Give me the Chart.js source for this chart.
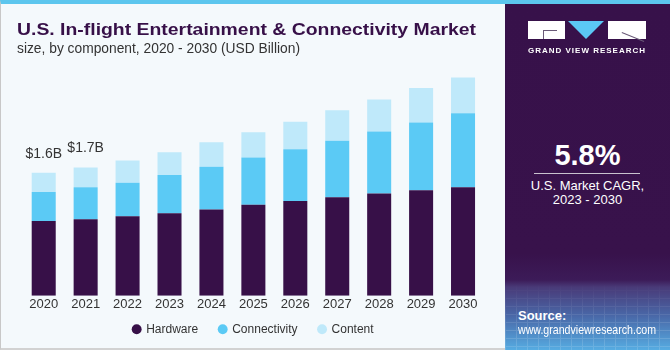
<!DOCTYPE html>
<html>
<head>
<meta charset="utf-8">
<script src="https://cdn.jsdelivr.net/npm/chart.js@4/dist/chart.umd.min.js"></script>
<style>
  html, body { margin: 0; padding: 0; }
  body { width: 670px; height: 350px; overflow: hidden; position: relative; background: #fff;
         font-family: "Liberation Sans", Arial, sans-serif; }
  .abs { position: absolute; white-space: nowrap; }
  #left { left: 0; top: 0; width: 505px; height: 350px; box-sizing: border-box;
          background: #f4f9fc; border-top: 4px solid #5cc6ee; border-left: 1px solid #c8c8c8;
          border-bottom: 2px solid #d2d2d2; }
  #right { left: 505px; top: 0; width: 165px; height: 350px; box-sizing: border-box;
           border-top: 4px solid #5cc6ee; overflow: hidden;
           background: linear-gradient(180deg, #37114a 0px, #38124b 250px, #3c1b58 276px, #493a78 283px, #4968a8 312px, #56ace2 346px); }
  #grid { left: 0; top: 279px; width: 165px; height: 80px; opacity: 0.13;
          background-image: repeating-linear-gradient(90deg, #fff 0 1px, transparent 1px 11px),
                            repeating-linear-gradient(0deg, #fff 0 1px, transparent 1px 8px);
          -webkit-mask-image: linear-gradient(180deg, transparent 0%, #000 60%);
          mask-image: linear-gradient(180deg, transparent 0%, #000 60%); }
  #title { left: 17px; top: 21px; font-size: 17px; line-height: 17px; font-weight: bold; color: #371048;
           transform-origin: 0 0; }
  #subtitle { left: 17px; top: 41px; font-size: 14px; line-height: 14px; color: #333; transform-origin: 0 0; }
  #chartWrap { left: 0; top: 0; width: 505px; height: 350px; }
  .w { color: #fff; }
</style>
</head>
<body>
<div id="left" class="abs"></div>
<div id="right" class="abs">
  <div id="grid" class="abs"></div>
</div>

<div id="title" class="abs fit" data-w="459">U.S. In-flight Entertainment &amp; Connectivity Market</div>
<div id="subtitle" class="abs fit" data-w="283">size, by component, 2020 - 2030 (USD Billion)</div>

<!-- logo -->
<div class="abs" style="left:528px;top:21px;width:37px;height:18px;background:#fff"></div>
<div class="abs" style="left:543px;top:30px;width:14px;height:1px;background:#6a5a78"></div>
<div class="abs" style="left:543px;top:30px;width:1px;height:9px;background:#6a5a78"></div>
<div class="abs" style="left:568px;top:21px;width:0;height:0;border-left:18.5px solid transparent;border-right:18.5px solid transparent;border-top:18px solid #5bc8f5"></div>
<div class="abs" style="left:608px;top:21px;width:38px;height:18px;background:#fff"></div>
<div class="abs" style="left:622px;top:32px;width:24px;height:1px;background:#6a5a78;transform:rotate(22deg);transform-origin:0 0"></div>
<div class="abs w fit" data-w="118" style="left:528px;top:47px;font-size:8px;line-height:8px;font-weight:bold;letter-spacing:1px;transform-origin:0 0">GRAND VIEW RESEARCH</div>

<!-- CAGR -->
<div class="abs w" style="left:505px;width:165px;text-align:center;top:141px;font-size:29px;line-height:29px;font-weight:bold">5.8%</div>
<div class="abs" style="left:534px;top:173px;width:106px;height:1px;background:#c9c2cf"></div>
<div class="abs w" style="left:505px;width:165px;text-align:center;top:179px;font-size:13px;line-height:13px">U.S. Market CAGR,</div>
<div class="abs w" style="left:505px;width:165px;text-align:center;top:193px;font-size:13px;line-height:13px">2023 - 2030</div>

<!-- source -->
<div class="abs w" style="left:518px;top:309px;font-size:13px;line-height:13px;font-weight:bold">Source:</div>
<div class="abs w fit" data-w="138" style="left:518px;top:323px;font-size:13px;line-height:13px;transform-origin:0 0">www.grandviewresearch.com</div>

<div id="chartWrap" class="abs"><canvas id="chart" width="505" height="350"></canvas></div>

<script>
const years = ["2020", "2021", "2022", "2023", "2024", "2025", "2026", "2027", "2028", "2029", "2030"];
const hardware = [0.98, 1.00, 1.04, 1.08, 1.13, 1.19, 1.24, 1.29, 1.34, 1.38, 1.42];
const connectivity = [0.38, 0.42, 0.44, 0.50, 0.56, 0.62, 0.68, 0.74, 0.81, 0.89, 0.97];
const content = [0.25, 0.26, 0.29, 0.30, 0.32, 0.33, 0.36, 0.40, 0.42, 0.45, 0.47];
const totalLabels = ["$1.6B", "$1.7B", "", "", "", "", "", "", "", "", ""];

// squeeze header texts to the widths seen in the picture
document.querySelectorAll(".fit").forEach(el => {
  const w = el.getBoundingClientRect().width;
  el.style.transform = "scaleX(" + (Number(el.dataset.w) / w) + ")";
});

const totalsPlugin = {
  id: "totals",
  afterDatasetsDraw(chart) {
    const meta = chart.getDatasetMeta(2);
    const ctx = chart.ctx;
    ctx.save();
    ctx.fillStyle = "#333";
    ctx.font = "14px 'Liberation Sans', Arial, sans-serif";
    ctx.textAlign = "center";
    ctx.textBaseline = "alphabetic";
    meta.data.forEach((bar, i) => {
      if (totalLabels[i]) ctx.fillText(totalLabels[i], bar.x, bar.y - 15);
    });
    ctx.restore();
  }
};

new Chart(document.getElementById("chart"), {
  type: "bar",
  data: {
    labels: years,
    datasets: [
      { label: "Hardware", data: hardware, backgroundColor: "#371048" },
      { label: "Connectivity", data: connectivity, backgroundColor: "#5bcaf5" },
      { label: "Content", data: content, backgroundColor: "#bfe9fa" }
    ]
  },
  options: {
    responsive: false,
    animation: false,
    categoryPercentage: 0.573,
    barPercentage: 1,
    layout: { padding: { left: 22.75, right: 21, top: 66.7, bottom: 4.7 } },
    scales: {
      x: {
        stacked: true,
        grid: { display: false, drawTicks: false },
        border: { display: false },
        ticks: { color: "#333", padding: 0.5, font: { size: 13, family: "'Liberation Sans', Arial, sans-serif" } }
      },
      y: { stacked: true, display: false, min: 0, max: 3 }
    },
    plugins: {
      legend: {
        position: "bottom",
        labels: {
          usePointStyle: true,
          pointStyle: "circle",
          boxWidth: 7,
          boxHeight: 7,
          padding: 11,
          color: "#333",
          font: { size: 12, family: "'Liberation Sans', Arial, sans-serif" },
          // extra room after each entry, the gaps are wider than the row padding
          generateLabels: chart => Chart.defaults.plugins.legend.labels.generateLabels(chart)
            .map((item, i, all) => ({ ...item, text: i < all.length - 1 ? item.text + "   " : item.text }))
        }
      },
      tooltip: { enabled: false }
    }
  },
  plugins: [totalsPlugin]
});
</script>
</body>
</html>
